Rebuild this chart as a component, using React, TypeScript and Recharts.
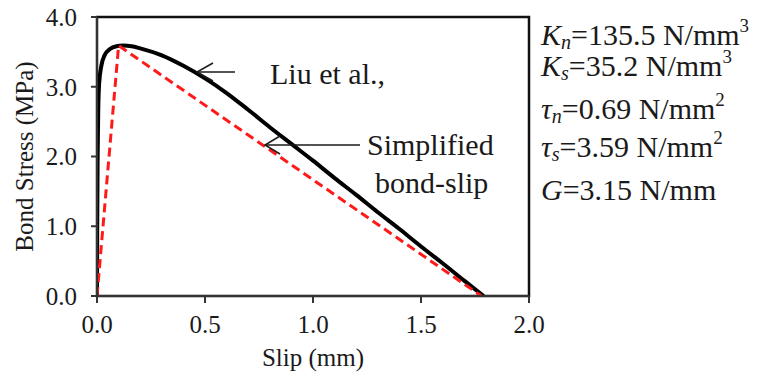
import * as React from 'react'
import {
  LineChart,
  Line,
  XAxis,
  YAxis,
  ReferenceArea,
  Label
} from 'recharts'

// Liu et al. bond-slip curve (slip in mm, stress in MPa)
const liuSlip = [0, 0.001, 0.003, 0.006, 0.01, 0.02, 0.035, 0.06, 0.09, 0.12, 0.16, 0.2, 0.3, 0.4, 0.5, 0.6, 0.7, 0.8, 0.9, 1.0, 1.1, 1.2, 1.3, 1.4, 1.5, 1.6, 1.7, 1.79]
const liuStress = [0, 1.0, 2.0, 2.7, 3.05, 3.3, 3.45, 3.54, 3.58, 3.59, 3.58, 3.55, 3.45, 3.3, 3.12, 2.91, 2.67, 2.42, 2.18, 1.94, 1.69, 1.45, 1.2, 0.96, 0.71, 0.47, 0.22, 0]

// simplified bilinear bond-slip
const simpSlip = [0, 0.1, 1.78]
const simpStress = [0, 3.59, 0]

const xTicks = [0, 0.5, 1.0, 1.5, 2.0]
const yTicks = [0, 1.0, 2.0, 3.0, 4.0]

const liuData = liuSlip.map((s, i) => ({ slip: s, stress: liuStress[i] }))
const simpData = simpSlip.map((s, i) => ({ slip: s, stress: simpStress[i] }))

const FONT = 'Liberation Serif'
const tickStyle = { fontSize: 25, fill: '#1a1a1a', style: { fontFamily: FONT } }

export default function App() {
  return (
    <div style={{ position: 'absolute', left: 0, top: 0, width: 758, height: 379, background: '#fff', fontFamily: FONT }}>
      <LineChart
        width={758}
        height={379}
        margin={{ top: 17, right: 229, bottom: 0, left: 0 }}
        style={{ fontFamily: FONT }}
      >
        <XAxis
          type="number"
          dataKey="slip"
          domain={[0, 2]}
          ticks={xTicks}
          tickFormatter={(v: number) => v.toFixed(1)}
          tick={tickStyle}
          tickSize={7}
          tickMargin={12}
          height={83}
          stroke="#333"
          strokeWidth={2}
          allowDataOverflow
        >
          <Label
            content={({ viewBox }: any) => (
              <text
                x={viewBox.x + viewBox.width / 2}
                y={366}
                textAnchor="middle"
                fontSize={25}
                style={{ fontFamily: FONT }}
                fill="#1a1a1a"
              >
                Slip (mm)
              </text>
            )}
          />
        </XAxis>
        <YAxis
          type="number"
          dataKey="stress"
          domain={[0, 4]}
          ticks={yTicks}
          tickFormatter={(v: number) => v.toFixed(1)}
          tick={tickStyle}
          tickSize={6}
          tickMargin={14}
          width={97}
          stroke="#333"
          strokeWidth={2}
          allowDataOverflow
        >
          <Label
            content={({ viewBox }: any) => {
              const cy = viewBox.y + viewBox.height / 2
              return (
                <text
                  x={33}
                  y={cy}
                  transform={`rotate(-90, 33, ${cy})`}
                  textAnchor="middle"
                  fontSize={25}
                  style={{ fontFamily: FONT }}
                  fill="#1a1a1a"
                >
                  Bond Stress (MPa)
                </text>
              )
            }}
          />
        </YAxis>
        <ReferenceArea x1={0} x2={2} y1={0} y2={4} stroke="#111" strokeWidth={2.5} fill="none" fillOpacity={0} />
        <Line
          data={liuData}
          dataKey="stress"
          type="monotone"
          stroke="#000"
          strokeWidth={4}
          dot={false}
          isAnimationActive={false}
        />
        <Line
          data={simpData}
          dataKey="stress"
          type="linear"
          stroke="#ff1a1a"
          strokeWidth={3}
          strokeDasharray="9 5"
          dot={false}
          isAnimationActive={false}
        />
      </LineChart>

      {/* annotations and parameter list */}
      <svg
        width={758}
        height={379}
        style={{ position: 'absolute', left: 0, top: 0, pointerEvents: 'none', fontFamily: FONT }}
        fill="#1a1a1a"
      >
        <g stroke="#1a1a1a" strokeWidth={1.5} fill="none">
          <line x1={235} y1={72} x2={197} y2={72} />
          <polyline points="213,63 197,72 213,81" />
          <line x1={360} y1={145} x2={265} y2={145} />
          <polyline points="280,136 265,145 280,154" />
        </g>
        <text x={270} y={84} fontSize={30}>Liu et al.,</text>
        <text x={367} y={155} fontSize={30}>Simplified</text>
        <text x={375} y={193} fontSize={30}>bond-slip</text>

        <g fontSize={30}>
          <text x={541} y={45}>
            <tspan fontStyle="italic">K</tspan>
            <tspan fontStyle="italic" fontSize={20} dy={4}>n</tspan>
            <tspan dy={-4}>=135.5 N/mm</tspan>
            <tspan fontSize={19} dy={-13}>3</tspan>
          </text>
          <text x={541} y={76}>
            <tspan fontStyle="italic">K</tspan>
            <tspan fontStyle="italic" fontSize={20} dy={4}>s</tspan>
            <tspan dy={-4}>=35.2 N/mm</tspan>
            <tspan fontSize={19} dy={-13}>3</tspan>
          </text>
          <text x={541} y={119}>
            <tspan fontStyle="italic">τ</tspan>
            <tspan fontStyle="italic" fontSize={20} dy={4}>n</tspan>
            <tspan dy={-4}>=0.69 N/mm</tspan>
            <tspan fontSize={19} dy={-13}>2</tspan>
          </text>
          <text x={541} y={157}>
            <tspan fontStyle="italic">τ</tspan>
            <tspan fontStyle="italic" fontSize={20} dy={4}>s</tspan>
            <tspan dy={-4}>=3.59 N/mm</tspan>
            <tspan fontSize={19} dy={-13}>2</tspan>
          </text>
          <text x={541} y={200}>
            <tspan fontStyle="italic">G</tspan>
            <tspan>=3.15 N/mm</tspan>
          </text>
        </g>
      </svg>
    </div>
  )
}
